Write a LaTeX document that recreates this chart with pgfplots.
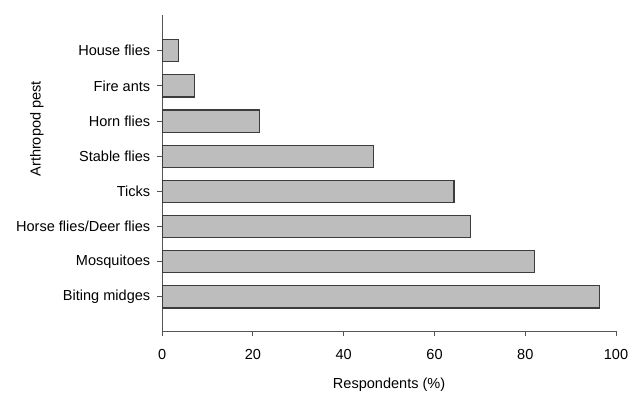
\documentclass[border=0pt]{standalone}
\usepackage{pgfplots}
\pgfplotsset{compat=1.18}
\usepackage{fontspec}
\setmainfont{Liberation Sans}
\definecolor{barfill}{HTML}{BDBDBD}
\definecolor{baredge}{HTML}{3C3C3C}
\definecolor{axcol}{HTML}{555555}
\begin{document}
\fontsize{14.6}{17.5}\selectfont
\begin{tikzpicture}[x=1pt,y=1pt]
\begin{axis}[
  scale only axis,
  width=456pt, height=318pt,
  xbar,
  bar width=0.63,
  xmin=0, xmax=100,
  ymin=-0.98, ymax=8.02,
  xtick={0,20,40,60,80,100},
  ytick={0,1,2,3,4,5,6,7},
  yticklabels={Biting midges,Mosquitoes,Horse flies/Deer flies,Ticks,Stable flies,Horn flies,Fire ants,House flies},
  axis lines*=left,
  axis line style={draw=axcol, line width=1pt},
  tick style={draw=axcol, line width=1pt},
  tick align=outside,
  major tick length=5pt,
  /pgf/number format/assume math mode=true,
  tick label style={font=\fontsize{14.6}{17.5}\selectfont},
  label style={font=\fontsize{14.6}{17.5}\selectfont},
  xlabel={Respondents (\%)},
  ylabel={Arthropod pest},
  ylabel style={at={(axis description cs:-0.276,0.64)}, anchor=center},
  xlabel style={at={(axis description cs:0.5,0)}, anchor=center, yshift=-54pt},
  xticklabel style={yshift=-8pt},
  yticklabel style={xshift=-2pt},
  clip=false,
]
\addplot[fill=barfill, draw=baredge, line width=1.1pt] coordinates {
  (96.4,0) (82.1,1) (67.9,2) (64.3,3) (46.5,4) (21.4,5) (7.2,6) (3.5,7)
};
\coordinate (O) at (rel axis cs:0,0);
\end{axis}
\path[use as bounding box] ([shift={(-163pt,-58pt)}]O) rectangle ([shift={(470pt,333pt)}]O);
\end{tikzpicture}
\end{document}
